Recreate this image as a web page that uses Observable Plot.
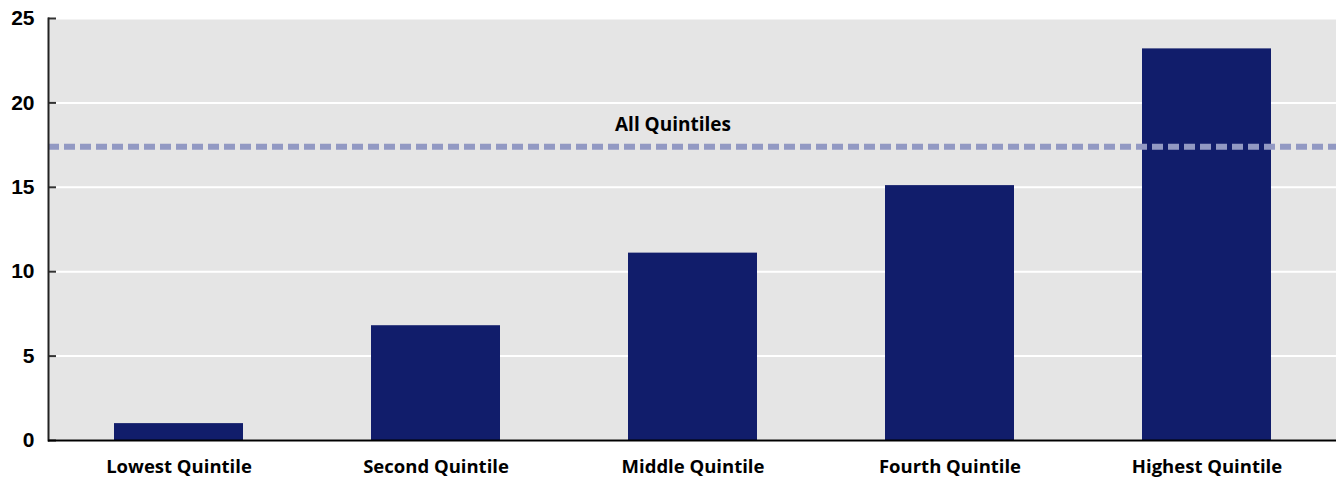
<!DOCTYPE html>
<html>
<head>
<meta charset="utf-8">
<script src="https://cdn.jsdelivr.net/npm/d3@7"></script>
<script src="https://cdn.jsdelivr.net/npm/@observablehq/plot@0.6"></script>
<style>
  html, body { margin: 0; padding: 0; background: #ffffff; }
  #chart svg { display: block; }
</style>
</head>
<body>
<div id="chart"></div>
<script>
// Income quintiles and their values
const quintiles = ["Lowest Quintile", "Second Quintile", "Middle Quintile", "Fourth Quintile", "Highest Quintile"];
const values = [1.0, 6.8, 11.1, 15.1, 23.2];
// Reference value across all quintiles
const allQuintiles = 17.4;
const allLabel = "All Quintiles";
const yTicks = [0, 5, 10, 15, 20, 25];

const data = quintiles.map((q, i) => ({quintile: q, value: values[i]}));

const labelFont = "'Open Sans', 'Noto Sans', sans-serif";

const chart = Plot.plot({
  width: 1336,
  height: 478,
  marginLeft: 48,
  marginRight: 0,
  marginTop: 18,
  marginBottom: 38,
  style: {fontFamily: labelFont, background: "#ffffff", color: "#000"},
  x: {domain: quintiles, paddingInner: 0.5, paddingOuter: 0.25, label: null},
  y: {domain: [0, 25], ticks: yTicks, label: null},
  marks: [
    Plot.frame({fill: "#e5e5e5", stroke: "none"}),
    Plot.gridY(yTicks, {stroke: "#ffffff", strokeOpacity: 1, strokeWidth: 2}),
    Plot.barY(data, {x: "quintile", y: "value", fill: "#111d6b"}),
    Plot.ruleY([allQuintiles], {stroke: "#9299c3", strokeWidth: 6, strokeDasharray: "11,5"}),
    Plot.text([allLabel], {
      x: () => quintiles[2], y: () => allQuintiles, text: d => d,
      dy: -22, dx: -20, fontSize: 19, fontWeight: "bold", fill: "#000"
    }),
    Plot.axisY(yTicks, {tickSize: -8, stroke: "#333", strokeWidth: 2, text: null}),
    Plot.axisY(yTicks, {
      tickSize: 0, tickPadding: 14, fontSize: 21, fontWeight: "bold",
      fontFamily: "'Liberation Sans', sans-serif"
    }),
    Plot.axisX({tickSize: 0, tickPadding: 19, fontSize: 18.5, fontWeight: "bold"}),
    Plot.frame({anchor: "left", stroke: "#222", strokeWidth: 2}),
    Plot.ruleY([0], {stroke: "#000", strokeWidth: 2})
  ]
});

document.getElementById("chart").appendChild(chart);
</script>
</body>
</html>
